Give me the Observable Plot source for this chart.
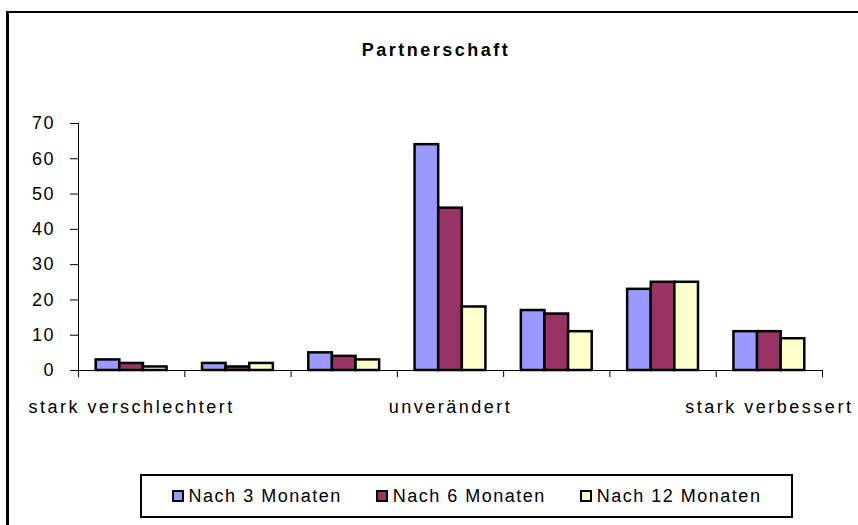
<!DOCTYPE html>
<html><head><meta charset="utf-8">
<script src="https://cdn.jsdelivr.net/npm/d3@7"></script>
<script src="https://cdn.jsdelivr.net/npm/@observablehq/plot@0.6"></script>
<style>
html,body{margin:0;padding:0;background:#fff;}
body{width:858px;height:525px;overflow:hidden;position:relative;font-family:"Liberation Sans",Arial,sans-serif;color:#000;}
#frame{position:absolute;left:6px;top:11px;width:900px;height:600px;border-left:2px solid #000;border-top:2px solid #000;}
#frame2{position:absolute;left:8px;top:13px;width:1px;height:600px;background:#000;}
#title{position:absolute;top:41px;left:0;width:872px;text-align:center;font-weight:bold;font-size:18px;line-height:18px;letter-spacing:2.5px;}
#chart{position:absolute;left:0;top:0;}
#chart svg text{fill:#000;}
#chart g[aria-label="x-axis tick label"] text{letter-spacing:2.5px;}
#chart g[aria-label="y-axis tick label"] text{letter-spacing:1.5px;}
#legend{position:absolute;left:140px;top:474px;width:649px;height:40px;border:2px solid #000;display:flex;align-items:center;justify-content:center;gap:34px;font-size:18px;letter-spacing:1.5px;}
.item{display:flex;align-items:center;}
.sw{width:8px;height:8px;border:2px solid #000;margin-right:5px;}
</style></head><body>
<div id="frame"></div>
<div id="frame2"></div>
<div id="title">Partnerschaft</div>
<div id="chart"></div>
<div id="legend"></div>
<script>
const chartTitle = "Partnerschaft";
const categories = [1, 2, 3, 4, 5, 6, 7];
const categoryLabels = ["stark verschlechtert", "", "", "unverändert", "", "", "stark verbessert"];
const seriesNames = ["Nach 3 Monaten", "Nach 6 Monaten", "Nach 12 Monaten"];
const seriesColors = ["#9999FF", "#993366", "#FFFFCC"];
const nach3 = [3, 2, 5, 64, 17, 23, 11];
const nach6 = [2, 1, 4, 46, 16, 25, 11];
const nach12 = [1, 2, 3, 18, 11, 25, 9];
const yTicks = [0, 10, 20, 30, 40, 50, 60, 70];

const seriesValues = [nach3, nach6, nach12];
const data = [];
categories.forEach((c, i) => seriesValues.forEach((vals, s) =>
  data.push({category: c, series: seriesNames[s], value: vals[i]})));

// Excel-like clustered layout inside each category (gap width 50%)
const inner = d3.scaleBand().domain(seriesNames).range([0, 1]).paddingInner(0).paddingOuter(0.75);
const boundaries = d3.range(categories.length + 1);
const labelTicks = categories.map((c, i) => i).filter(i => categoryLabels[i] !== "").map(i => i + 0.5);

const chart = Plot.plot({
  width: 858,
  height: 430,
  marginTop: 123,
  marginBottom: 60,
  marginLeft: 78,
  marginRight: 36,
  style: {fontFamily: '"Liberation Sans", Arial, sans-serif', background: "transparent", color: "#000"},
  x: {type: "linear", domain: [0, categories.length], axis: null},
  y: {domain: [0, 70], axis: null},
  color: {domain: seriesNames, range: seriesColors},
  marks: [
    Plot.rectY(data, {
      x1: d => d.category - 1 + inner(d.series),
      x2: d => d.category - 1 + inner(d.series) + inner.bandwidth(),
      y1: 0, y2: "value",
      fill: "series", stroke: "#000", strokeWidth: 2.5
    }),
    Plot.ruleY([0], {stroke: "#000", strokeWidth: 1}),
    Plot.ruleX([0], {stroke: "#000", strokeWidth: 1}),
    Plot.axisX(boundaries, {tickSize: 7, tickFormat: () => "", label: null, stroke: "#000"}),
    Plot.axisX(labelTicks, {tickSize: 0, tickPadding: 30, fontSize: 18, label: null,
      tickFormat: d => categoryLabels[Math.floor(d)]}),
    Plot.axisY(yTicks, {tickSize: 8, tickPadding: 15.5, fontSize: 18, label: null, stroke: "#000"})
  ]
});
document.getElementById("chart").appendChild(chart);

const legend = document.getElementById("legend");
seriesNames.forEach((name, i) => {
  const item = document.createElement("div");
  item.className = "item";
  const sw = document.createElement("span");
  sw.className = "sw";
  sw.style.background = seriesColors[i];
  const t = document.createElement("span");
  t.textContent = name;
  item.appendChild(sw);
  item.appendChild(t);
  legend.appendChild(item);
});
</script>
</body></html>
